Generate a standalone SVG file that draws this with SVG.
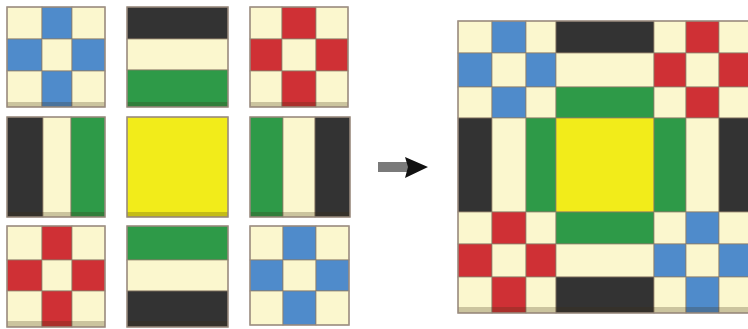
<svg xmlns="http://www.w3.org/2000/svg" width="748" height="329" viewBox="0 0 748 329">
<style>
rect{stroke:#8C7C68;stroke-width:1;stroke-opacity:0.7}
.c{fill:#FBF7CE}.b{fill:#4F8BCB}.r{fill:#CF3035}.k{fill:#333333}.g{fill:#2E9A48}.y{fill:#F2EC1A}
.sh{fill:#3a2a10;fill-opacity:0.25;stroke:none}
.fr{fill:none;stroke:#9A8C80;stroke-width:1.5;stroke-opacity:0.9}
.bar{fill:#7A7A7A;stroke:none}
</style>
<g id="block-blue-tl">
<rect class="c" x="7" y="7" width="35" height="32"/><rect class="b" x="42" y="7" width="30" height="32"/><rect class="c" x="72" y="7" width="33" height="32"/>
<rect class="b" x="7" y="39" width="35" height="32"/><rect class="c" x="42" y="39" width="30" height="32"/><rect class="b" x="72" y="39" width="33" height="32"/>
<rect class="c" x="7" y="71" width="35" height="36"/><rect class="b" x="42" y="71" width="30" height="36"/><rect class="c" x="72" y="71" width="33" height="36"/>
<rect class="sh" x="7" y="102" width="98" height="5"/><rect class="fr" x="7" y="7" width="98" height="100"/>
</g>
<g id="block-stripes-top">
<rect class="k" x="127" y="7" width="101" height="32"/><rect class="c" x="127" y="39" width="101" height="31"/><rect class="g" x="127" y="70" width="101" height="37"/>
<rect class="sh" x="127" y="102" width="101" height="5"/><rect class="fr" x="127" y="7" width="101" height="100"/>
</g>
<g id="block-red-tr">
<rect class="c" x="250" y="7" width="32" height="32"/><rect class="r" x="282" y="7" width="34" height="32"/><rect class="c" x="316" y="7" width="32" height="32"/>
<rect class="r" x="250" y="39" width="32" height="32"/><rect class="c" x="282" y="39" width="34" height="32"/><rect class="r" x="316" y="39" width="32" height="32"/>
<rect class="c" x="250" y="71" width="32" height="36"/><rect class="r" x="282" y="71" width="34" height="36"/><rect class="c" x="316" y="71" width="32" height="36"/>
<rect class="sh" x="250" y="102" width="98" height="5"/><rect class="fr" x="250" y="7" width="98" height="100"/>
</g>
<g id="block-stripes-left">
<rect class="k" x="7" y="117" width="36" height="100"/><rect class="c" x="43" y="117" width="28" height="100"/><rect class="g" x="71" y="117" width="34" height="100"/>
<rect class="sh" x="7" y="212" width="98" height="5"/><rect class="fr" x="7" y="117" width="98" height="100"/>
</g>
<g id="block-yellow">
<rect class="y" x="127" y="117" width="101" height="100"/>
<rect class="sh" x="127" y="212" width="101" height="5"/><rect class="fr" x="127" y="117" width="101" height="100"/>
</g>
<g id="block-stripes-right">
<rect class="g" x="250" y="117" width="33" height="100"/><rect class="c" x="283" y="117" width="32" height="100"/><rect class="k" x="315" y="117" width="35" height="100"/>
<rect class="sh" x="250" y="212" width="100" height="5"/><rect class="fr" x="250" y="117" width="100" height="100"/>
</g>
<g id="block-red-bl">
<rect class="c" x="7" y="226" width="35" height="34"/><rect class="r" x="42" y="226" width="30" height="34"/><rect class="c" x="72" y="226" width="33" height="34"/>
<rect class="r" x="7" y="260" width="35" height="31"/><rect class="c" x="42" y="260" width="30" height="31"/><rect class="r" x="72" y="260" width="33" height="31"/>
<rect class="c" x="7" y="291" width="35" height="36"/><rect class="r" x="42" y="291" width="30" height="36"/><rect class="c" x="72" y="291" width="33" height="36"/>
<rect class="sh" x="7" y="321" width="98" height="6"/><rect class="fr" x="7" y="226" width="98" height="101"/>
</g>
<g id="block-stripes-bottom">
<rect class="g" x="127" y="226" width="101" height="34"/><rect class="c" x="127" y="260" width="101" height="31"/><rect class="k" x="127" y="291" width="101" height="36"/>
<rect class="sh" x="127" y="321" width="101" height="6"/><rect class="fr" x="127" y="226" width="101" height="101"/>
</g>
<g id="block-blue-br">
<rect class="c" x="250" y="226" width="33" height="34"/><rect class="b" x="283" y="226" width="33" height="34"/><rect class="c" x="316" y="226" width="33" height="34"/>
<rect class="b" x="250" y="260" width="33" height="31"/><rect class="c" x="283" y="260" width="33" height="31"/><rect class="b" x="316" y="260" width="33" height="31"/>
<rect class="c" x="250" y="291" width="33" height="34"/><rect class="b" x="283" y="291" width="33" height="34"/><rect class="c" x="316" y="291" width="33" height="34"/>
<rect class="fr" x="250" y="226" width="99" height="99"/>
</g>
<g id="connectors">
<rect class="bar" x="378" y="162" width="30" height="10"/>
<polygon points="405,157 428,167 405,178 408,167" fill="#111111"/>
</g>
<g id="result-quilt">
<rect class="c" x="458" y="21" width="34" height="32"/><rect class="b" x="492" y="21" width="34" height="32"/><rect class="c" x="526" y="21" width="30" height="32"/>
<rect class="k" x="556" y="21" width="98" height="32"/>
<rect class="c" x="654" y="21" width="32" height="32"/><rect class="r" x="686" y="21" width="33" height="32"/><rect class="c" x="719" y="21" width="33" height="32"/>
<rect class="b" x="458" y="53" width="34" height="34"/><rect class="c" x="492" y="53" width="34" height="34"/><rect class="b" x="526" y="53" width="30" height="34"/>
<rect class="c" x="556" y="53" width="98" height="34"/>
<rect class="r" x="654" y="53" width="32" height="34"/><rect class="c" x="686" y="53" width="33" height="34"/><rect class="r" x="719" y="53" width="33" height="34"/>
<rect class="c" x="458" y="87" width="34" height="31"/><rect class="b" x="492" y="87" width="34" height="31"/><rect class="c" x="526" y="87" width="30" height="31"/>
<rect class="g" x="556" y="87" width="98" height="31"/>
<rect class="c" x="654" y="87" width="32" height="31"/><rect class="r" x="686" y="87" width="33" height="31"/><rect class="c" x="719" y="87" width="33" height="31"/>
<rect class="k" x="458" y="118" width="34" height="94"/><rect class="c" x="492" y="118" width="34" height="94"/><rect class="g" x="526" y="118" width="30" height="94"/>
<rect class="y" x="556" y="118" width="98" height="94"/>
<rect class="g" x="654" y="118" width="32" height="94"/><rect class="c" x="686" y="118" width="33" height="94"/><rect class="k" x="719" y="118" width="33" height="94"/>
<rect class="c" x="458" y="212" width="34" height="32"/><rect class="r" x="492" y="212" width="34" height="32"/><rect class="c" x="526" y="212" width="30" height="32"/>
<rect class="g" x="556" y="212" width="98" height="32"/>
<rect class="c" x="654" y="212" width="32" height="32"/><rect class="b" x="686" y="212" width="33" height="32"/><rect class="c" x="719" y="212" width="33" height="32"/>
<rect class="r" x="458" y="244" width="34" height="33"/><rect class="c" x="492" y="244" width="34" height="33"/><rect class="r" x="526" y="244" width="30" height="33"/>
<rect class="c" x="556" y="244" width="98" height="33"/>
<rect class="b" x="654" y="244" width="32" height="33"/><rect class="c" x="686" y="244" width="33" height="33"/><rect class="b" x="719" y="244" width="33" height="33"/>
<rect class="c" x="458" y="277" width="34" height="36"/><rect class="r" x="492" y="277" width="34" height="36"/><rect class="c" x="526" y="277" width="30" height="36"/>
<rect class="k" x="556" y="277" width="98" height="36"/>
<rect class="c" x="654" y="277" width="32" height="36"/><rect class="b" x="686" y="277" width="33" height="36"/><rect class="c" x="719" y="277" width="33" height="36"/>
<rect class="sh" x="458" y="307" width="294" height="6"/>
<rect class="fr" x="458" y="21" width="294" height="292"/>
</g>
</svg>
